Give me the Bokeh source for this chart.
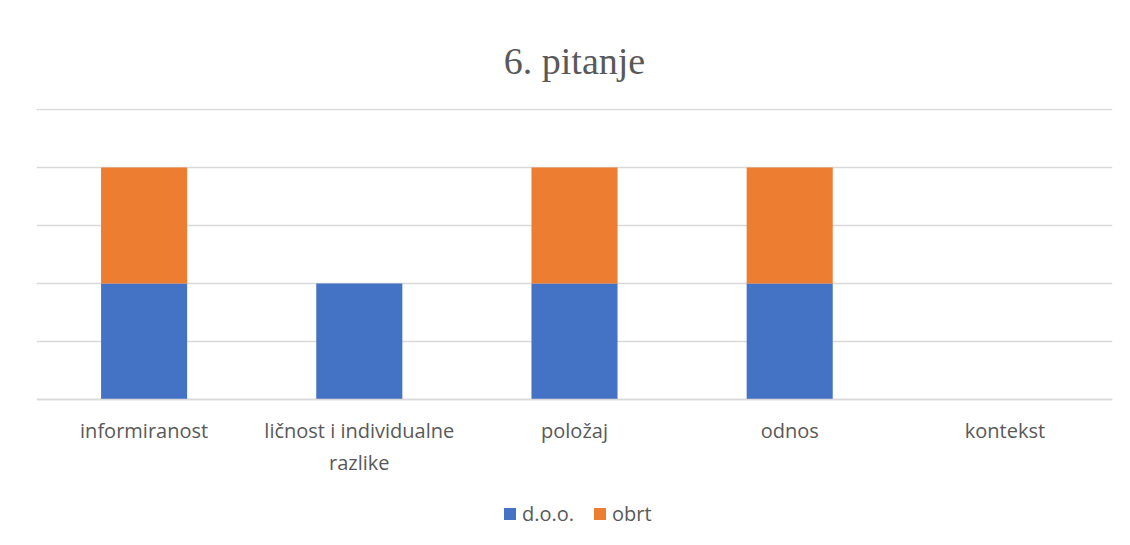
from bokeh.plotting import figure
from bokeh.models import ColumnDataSource, Legend, LegendItem, Range1d, FixedTicker, Title
from bokeh.embed import file_html
from bokeh.resources import INLINE

categories = ["informiranost", "ličnost i individualne\nrazlike", "položaj", "odnos", "kontekst"]
doo = [2, 2, 2, 2, 0]
obrt = [2, 0, 2, 2, 0]
series = ["d.o.o.", "obrt"]
colors = ["#4472C4", "#ED7D31"]
y_ticks = [0, 1, 2, 3, 4, 5]

src = ColumnDataSource(dict(cat=categories, doo=doo, obrt=obrt))

PX_PER_UNIT = 58.0
p = figure(x_range=categories,
           y_range=Range1d(-146 / PX_PER_UNIT, 5 + 1 / PX_PER_UNIT),
           width=1130, height=545,
           output_backend="svg", toolbar_location=None,
           min_border_left=36, min_border_right=18, min_border_top=108, min_border_bottom=0)

r = p.vbar_stack(["doo", "obrt"], x="cat", width=0.4, color=colors, source=src, line_width=0)

p.title = Title(text="6. pitanje", align="center", text_font="Liberation Serif",
                text_font_size="38px", text_font_style="normal", text_color="#595959", standoff=54)

p.outline_line_color = None
p.yaxis.visible = False
p.ygrid.ticker = FixedTicker(ticks=y_ticks)
p.ygrid.grid_line_color = "#d9d9d9"
p.ygrid.grid_line_width = 1.5
p.xgrid.grid_line_color = None

ax = p.xaxis[0]
ax.fixed_location = 0
ax.axis_line_color = "#d9d9d9"
ax.axis_line_width = 1.5
ax.major_tick_line_color = None
ax.minor_tick_line_color = None
ax.major_label_text_font = "Open Sans"
ax.major_label_text_font_size = "20px"
ax.major_label_text_color = "#595959"
ax.major_label_standoff = 11

legend = Legend(items=[LegendItem(label=s, renderers=[rr]) for s, rr in zip(series, r)],
                orientation="horizontal", location=(466, 18),
                label_text_font="Open Sans", label_text_font_size="20px", label_text_color="#595959",
                glyph_width=15, glyph_height=15, label_standoff=5, spacing=18,
                border_line_color=None, background_fill_alpha=0, margin=0, padding=0)
p.add_layout(legend)

open("out.html", "w").write(file_html(p, INLINE))
